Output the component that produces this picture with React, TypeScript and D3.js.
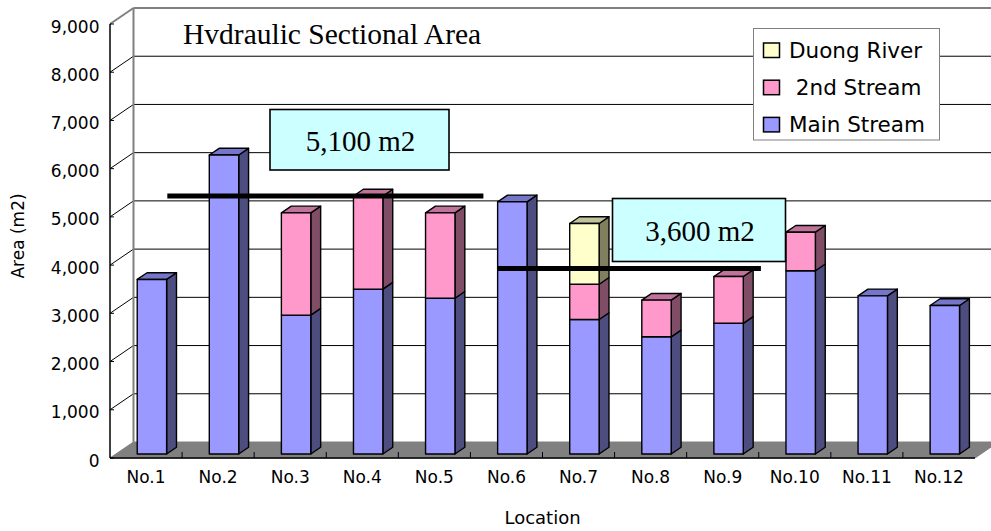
import React from "react";
import * as d3 from "d3";

// Locations along the river
const categories = ["No.1", "No.2", "No.3", "No.4", "No.5", "No.6", "No.7", "No.8", "No.9", "No.10", "No.11", "No.12"];
// Sectional area (m2) per channel, stacked bottom to top
const mainStream = [3620, 6200, 2880, 3420, 3230, 5230, 2790, 2430, 2710, 3800, 3280, 3080];
const secondStream = [0, 0, 2120, 1930, 1770, 0, 730, 760, 970, 800, 0, 0];
const duongRiver = [0, 0, 0, 0, 0, 0, 1260, 0, 0, 0, 0, 0];
const seriesNames = ["Main Stream", "2nd Stream", "Duong River"];
const yTicks = [0, 1000, 2000, 3000, 4000, 5000, 6000, 7000, 8000, 9000];
// Average reference levels with their annotations
const refValues = [5100, 3600];
const refLabels = ["5,100 m2", "3,600 m2"];

// Layout
const W = 991;
const H = 531;
const X0 = 110;
const X1 = 975;
const Y0 = 458;
const YT = 24;
const DX = 23.5; // depth offset of the back wall
const DY = -16;
const Z0 = 0.25; // bar front depth
const Z1 = 0.67; // bar back depth
const BAR_HALF = 14.7;

// Colours per series: front, side, top
const palette = [
  { front: "#9999ff", side: "#4d4d80", top: "#7575c9" },
  { front: "#ff99cc", side: "#804d66", top: "#c0739a" },
  { front: "#ffffcc", side: "#80805f", top: "#c2c29a" },
];

// Extent of the reference lines in category units, and their label boxes
const refSpan = [
  [0.795, 5.18],
  [5.37, 9.03],
];
const refBoxes = [
  { x: 270, y: 109.5, w: 179, h: 60.5 },
  { x: 612.5, y: 198.5, w: 173, h: 63 },
];

const fontSans = "'DejaVu Sans', sans-serif";
const fontSerif = "'Liberation Serif', 'Times New Roman', serif";

export default function App() {
  const x = d3.scaleBand<string>().domain(categories).range([X0, X1]).padding(0);
  const y = d3.scaleLinear().domain([0, 9000]).range([Y0, YT]);
  const step = x.step();

  const stack = d3
    .stack<number>()
    .keys([0, 1, 2].map(String))
    .value((i, k) => [mainStream, secondStream, duongRiver][+k][i]);
  const layers = stack(d3.range(categories.length));

  const pt = (xf: number, v: number, z: number) => [xf + z * DX, y(v) + z * DY];
  const poly = (pts: number[][]) => pts.map((p) => p.join(",")).join(" ");

  const bars: React.ReactNode[] = [];
  categories.forEach((cat, i) => {
    const c = (x(cat) as number) + x.bandwidth() / 2;
    const l = c - BAR_HALF;
    const r = c + BAR_HALF;
    const segs = layers
      .map((layer, s) => ({ s, v0: layer[i][0], v1: layer[i][1] }))
      .filter((d) => d.v1 - d.v0 > 0);
    segs.forEach((d, k) => {
      const col = palette[d.s];
      const isTop = k === segs.length - 1;
      const front = [pt(l, d.v1, Z0), pt(r, d.v1, Z0), pt(r, d.v0, Z0), pt(l, d.v0, Z0)];
      const side = [pt(r, d.v1, Z0), pt(r, d.v1, Z1), pt(r, d.v0, Z1), pt(r, d.v0, Z0)];
      const top = [pt(l, d.v1, Z0), pt(r, d.v1, Z0), pt(r, d.v1, Z1), pt(l, d.v1, Z1)];
      bars.push(
        <g key={`${cat}-${d.s}`} stroke="#000" strokeWidth={1.4} strokeLinejoin="round">
          <polygon points={poly(side)} fill={col.side} />
          {isTop && <polygon points={poly(top)} fill={col.top} />}
          <polygon points={poly(front)} fill={col.front} />
        </g>
      );
    });
  });

  const floor = [pt(X0, 0, 0), pt(X1, 0, 0), pt(X1, 0, 1), pt(X0, 0, 1)];
  const sideWall = [pt(X0, 0, 0), pt(X0, 9000, 0), pt(X0, 9000, 1), pt(X0, 0, 1)];
  const backLeft = X0 + DX;
  const backRight = X1 + DX;

  const legendItems = [
    { name: seriesNames[2], col: palette[2].front, label: "Duong River" },
    { name: seriesNames[1], col: palette[1].front, label: " 2nd Stream" },
    { name: seriesNames[0], col: palette[0].front, label: "Main Stream" },
  ];

  return (
    <div style={{ position: "absolute", left: 0, top: 0 }}>
      <svg width={W} height={H} viewBox={`0 0 ${W} ${H}`} style={{ display: "block", background: "#fff" }}>
        {/* back wall */}
        <rect x={backLeft} y={y(9000) + DY} width={backRight - backLeft} height={y(0) - y(9000)} fill="#fff" />
        {/* side wall */}
        <polygon points={poly(sideWall)} fill="#fff" />
        {/* gridlines on back wall and side wall */}
        {yTicks.slice(1, -1).map((v) => (
          <g key={`g${v}`}>
            <line x1={backLeft} x2={backRight} y1={y(v) + DY} y2={y(v) + DY} stroke="#000" strokeWidth={1} />
            <line x1={X0} y1={y(v)} x2={backLeft} y2={y(v) + DY} stroke="#000" strokeWidth={1} />
          </g>
        ))}
        {/* wall edges */}
        <line x1={backLeft} x2={backRight} y1={y(9000) + DY} y2={y(9000) + DY} stroke="#808080" strokeWidth={2} />
        <line x1={X0} y1={y(9000)} x2={backLeft} y2={y(9000) + DY} stroke="#808080" strokeWidth={2} />
        <line x1={backLeft} x2={backLeft} y1={y(9000) + DY} y2={y(0) + DY} stroke="#808080" strokeWidth={2} />
        {/* floor */}
        <polygon points={poly(floor)} fill="#808080" stroke="#808080" strokeWidth={1} />

        {/* x axis ticks */}
        {d3.range(1, categories.length).map((i) => (
          <line key={`xt${i}`} x1={X0 + i * step} x2={X0 + i * step} y1={Y0} y2={Y0 - 6} stroke="#000" strokeWidth={1} />
        ))}
        {/* axes */}
        <line x1={X0} x2={X1} y1={Y0} y2={Y0} stroke="#000" strokeWidth={1.5} />
        <line x1={X0} x2={X0} y1={YT} y2={Y0} stroke="#000" strokeWidth={1.5} />
        {yTicks.map((v) => (
          <g key={`yt${v}`}>
            <line x1={X0} x2={X0 + 4} y1={y(v)} y2={y(v)} stroke="#000" strokeWidth={1} />
            <text x={99.5} y={y(v) + 8.5} textAnchor="end" fontFamily={fontSans} fontSize={17} fill="#000">
              {d3.format(",")(v)}
            </text>
          </g>
        ))}
        {categories.map((cat) => (
          <text
            key={`xl${cat}`}
            x={(x(cat) as number) + x.bandwidth() / 2}
            y={483}
            textAnchor="middle"
            fontFamily={fontSans}
            fontSize={17}
            fill="#000"
          >
            {cat}
          </text>
        ))}

        {/* title */}
        <text x={183} y={44} fontFamily={fontSerif} fontSize={29.5} fill="#000">
          Hvdraulic Sectional Area
        </text>

        {bars}

        {/* reference levels */}
        {refValues.map((v, i) => (
          <line
            key={`ref${i}`}
            x1={X0 + refSpan[i][0] * step}
            x2={X0 + refSpan[i][1] * step}
            y1={y(v) + DY}
            y2={y(v) + DY}
            stroke="#000"
            strokeWidth={5}
          />
        ))}
        {refBoxes.map((b, i) => (
          <g key={`box${i}`}>
            <rect x={b.x} y={b.y} width={b.w} height={b.h} fill="#ccffff" stroke="#000" strokeWidth={1.6} />
            <text
              x={b.x + b.w / 2 + 1}
              y={b.y + b.h / 2 + 11}
              textAnchor="middle"
              fontFamily={fontSerif}
              fontSize={29}
              fill="#000"
            >
              {refLabels[i]}
            </text>
          </g>
        ))}

        {/* legend */}
        <rect x={753.5} y={28.5} width={186} height={111.5} fill="#fff" stroke="#808080" strokeWidth={1} />
        {legendItems.map((d, i) => (
          <g key={`lg${i}`}>
            <rect x={763.5} y={43 + i * 37.2} width={16} height={14.5} fill={d.col} stroke="#000" strokeWidth={1.5} />
            <text
              x={789}
              y={57.5 + i * 37.2}
              fontFamily={fontSans}
              fontSize={21.5}
              fill="#000"
              style={{ whiteSpace: "pre" }}
            >
              {d.label}
            </text>
          </g>
        ))}

        {/* axis titles */}
        <text x={542.5} y={524} textAnchor="middle" fontFamily={fontSans} fontSize={18} fill="#000">
          Location
        </text>
        <text
          transform="translate(24,236) rotate(-90)"
          textAnchor="middle"
          fontFamily={fontSans}
          fontSize={17}
          fill="#000"
        >
          Area (m2)
        </text>
      </svg>
    </div>
  );
}
